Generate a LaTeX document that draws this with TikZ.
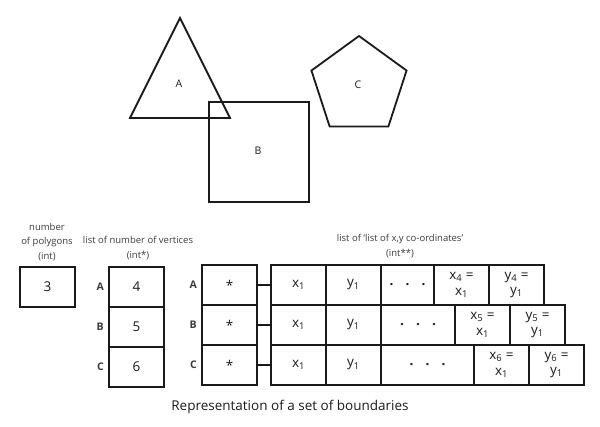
\documentclass[tikz,border=0pt]{standalone}
\usepackage{fontspec}
\setmainfont{Open Sans}
\usetikzlibrary{positioning, shapes.geometric}
\definecolor{cink}{HTML}{1A1A1A}
\definecolor{cnote}{HTML}{3C3C3C}
\tikzset{
  every picture/.style={x=1pt, y=-1pt, line width=1.8pt},
  cell/.style={draw=cink, minimum width=55pt, minimum height=40pt, inner sep=0pt, outer sep=0pt,
    align=center, font=\fontsize{13.5}{15.5}\selectfont, text=cink},
  dots/.style={cell, minimum width=#1, font=\fontsize{13.5}{15.5}\selectfont\bfseries},
  tag/.style={font=\fontsize{10.5}{10}\selectfont, text=cink},
  rowtag/.style={font=\fontsize{10.5}{10}\selectfont\bfseries, text=cnote},
  note/.style={font=\fontsize{9.5}{14.5}\selectfont, text=cnote, align=center},
  link/.style={draw=cink, line width=1.8pt},
}

\begin{document}
\begin{tikzpicture}
  \useasboundingbox (0,0) rectangle (600,426);
  % the three boundaries
  \draw[cink, line join=miter] (180,18) -- (130,118) -- (230,118) -- cycle;
  \node[tag] (labA) at (179,84) {A};
  \draw[cink] (209,102) rectangle (309,202);
  \node[tag] (labB) at (258,151) {B};
  \node[draw=cink, regular polygon, regular polygon sides=5, minimum size=100pt, inner sep=0pt] (pent) at (359,86) {};
  \node[tag] (labC) at (358,85) {C};

  % number of polygons
  \node[note] (ntitle) at (47,242) {number\\of polygons\\(int)};
  \node[cell] (npoly) at (47.5,287) {3};

  % list of number of vertices
  \node[note] (vtitle) at (138,248) {list of number of vertices\\(int*)};
  \node[cell] (v1) at (136.5,287) {4};
  \node[cell, below=0pt of v1] (v2) {5};
  \node[cell, below=0pt of v2] (v3) {6};
  \node[rowtag, left=1pt of v1] (vA) {A};
  \node[rowtag, left=1pt of v2] (vB) {B};
  \node[rowtag, left=1pt of v3] (vC) {C};

  % pointers
  \node[note] (ltitle) at (400,246) {list of `list of x,y co-ordinates'\\(int**)};
  \node[cell] (p1) at (229.5,285) {*};
  \node[cell, below=0pt of p1] (p2) {*};
  \node[cell, below=0pt of p2] (p3) {*};
  \node[rowtag, left=1pt of p1] (pA) {A};
  \node[rowtag, left=1pt of p2] (pB) {B};
  \node[rowtag, left=1pt of p3] (pC) {C};

  % co-ordinate lists, one row per polygon
  \node[cell] (a1) at (298.5,285) {x\textsubscript{1}};
  \node[cell, right=0pt of a1] (a2) {y\textsubscript{1}};
  \node[dots=53pt, right=0pt of a2] (a3) {.\hspace{0.9em}.\hspace{0.9em}.};
  \node[cell, right=0pt of a3] (a4) {x\textsubscript{4} =\\x\textsubscript{1}};
  \node[cell, right=0pt of a4] (a5) {y\textsubscript{4} =\\y\textsubscript{1}};

  \node[cell, below=0pt of a1] (b1) {x\textsubscript{1}};
  \node[cell, right=0pt of b1] (b2) {y\textsubscript{1}};
  \node[dots=74pt, right=0pt of b2] (b3) {.\hspace{0.9em}.\hspace{0.9em}.};
  \node[cell, right=0pt of b3] (b4) {x\textsubscript{5} =\\x\textsubscript{1}};
  \node[cell, right=0pt of b4] (b5) {y\textsubscript{5} =\\y\textsubscript{1}};

  \node[cell, below=0pt of b1] (c1) {x\textsubscript{1}};
  \node[cell, right=0pt of c1] (c2) {y\textsubscript{1}};
  \node[dots=93pt, right=0pt of c2] (c3) {.\hspace{0.9em}.\hspace{0.9em}.};
  \node[cell, right=0pt of c3] (c4) {x\textsubscript{6} =\\x\textsubscript{1}};
  \node[cell, right=0pt of c4] (c5) {y\textsubscript{6} =\\y\textsubscript{1}};

  \draw[link] (p1) -- (a1); \draw[link] (p2) -- (b1); \draw[link] (p3) -- (c1);

  \node[font=\fontsize{13.5}{14}\selectfont, text=cink] (caption) at (290,407) {Representation of a set of boundaries};
\end{tikzpicture}
\end{document}
